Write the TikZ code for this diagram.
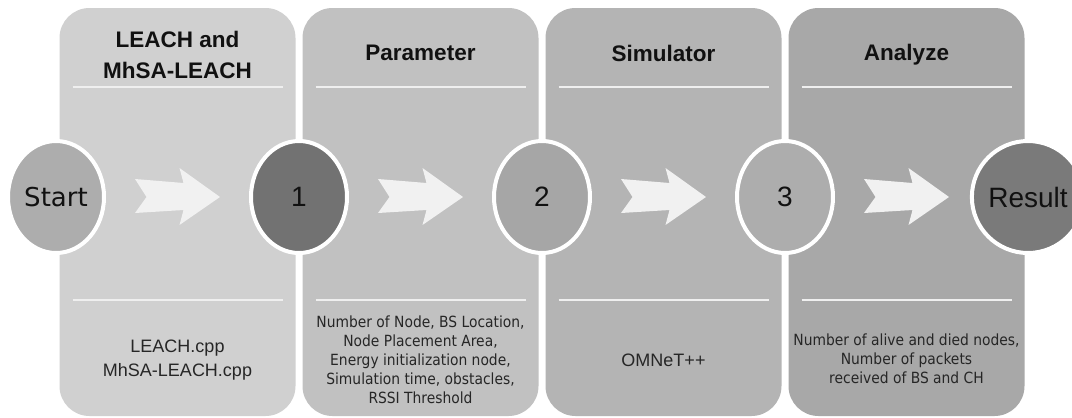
\documentclass[tikz,border=0pt]{standalone}
\usepackage{fontspec}
\setmainfont{Liberation Sans}
\newfontfamily\notefont{DejaVu Sans Condensed}
\newfontfamily\roundfont{DejaVu Sans}
\usetikzlibrary{shapes.geometric,calc}

\definecolor{panelA}{HTML}{D0D0D0}
\definecolor{panelB}{HTML}{C1C1C1}
\definecolor{panelC}{HTML}{B4B4B4}
\definecolor{panelD}{HTML}{A8A8A8}
\definecolor{ringMid}{HTML}{ADADAD}
\definecolor{ringDark}{HTML}{727272}
\definecolor{ringTwo}{HTML}{A6A6A6}
\definecolor{ringRes}{HTML}{7A7A7A}
\definecolor{rulecol}{HTML}{EFEFEF}
\definecolor{arrowfill}{HTML}{F1F1F1}
\definecolor{inkcol}{HTML}{111111}
\definecolor{bodyink}{HTML}{262626}

\tikzset{
  panel/.style={rounded corners=30pt},
  divider/.style={draw=rulecol, line width=2.2pt},
  stage/.style={ellipse, draw=white, line width=4pt, inner sep=0pt,
    minimum width=96pt, minimum height=112pt, text=inkcol},
  headtext/.style={align=center, text=inkcol,
    font=\bfseries\fontsize{22.5}{31}\selectfont},
  bodytext/.style={align=center, text=bodyink,
    font=\fontsize{18}{24}\selectfont},
  notetext/.style={align=center, text=bodyink,
    font=\notefont\fontsize{15.4}{19}\selectfont},
  flowarrow/.pic={
    \fill[arrowfill] (-42.5,-18) -- (6,-14) -- (2,-29) -- (42.5,0)
      -- (2,28) -- (6,13) -- (-42.5,16) -- (-31,0) -- cycle;
  }
}

\begin{document}
\begin{tikzpicture}[x=1pt, y=-1pt]
\useasboundingbox (0,0) rectangle (1072,418);
\fill[white] (0,0) rectangle (1072,418);

% four column panels
\fill[panelA, panel] (59.5,8) rectangle (295.5,416);
\fill[panelB, panel] (302.5,8) rectangle (538.5,416);
\fill[panelC, panel] (545.5,8) rectangle (781.5,416);
\fill[panelD, panel] (788.5,8) rectangle (1024.5,416);

% dividers under titles and above descriptions
\foreach \l in {59.5,302.5,545.5,788.5}{
  \draw[divider] (\l+13,87) -- (\l+223,87);
  \draw[divider] (\l+13,300) -- (\l+223,300);
}

% column titles
\node[headtext] (h1) at (177.5,54.5) {LEACH and\\MhSA-LEACH};
\node[headtext] (h2) at (420.5,53) {Parameter};
\node[headtext] (h3) at (663.5,53) {Simulator};
\node[headtext] (h4) at (906.5,55) {Analyze};

% column descriptions
\node[bodytext] (d1) at (177.5,360) {LEACH.cpp\\MhSA-LEACH.cpp};
\node[notetext] (d2) at (420.5,360) {Number of Node, BS Location,\\Node Placement Area,\\Energy initialization node,\\Simulation time, obstacles,\\RSSI Threshold};
\node[bodytext] (d3) at (663.5,360) {OMNeT++};
\node[notetext] (d4) at (906.5,359) {Number of alive and died nodes,\\Number of packets\\received of BS and CH};

% stage markers
\node[stage, fill=ringMid, font=\roundfont\fontsize{26}{26}\selectfont] (start) at (56,197) {Start};
\node[stage, fill=ringDark, font=\fontsize{28}{28}\selectfont] (one) at (299,197) {1};
\node[stage, fill=ringTwo, font=\fontsize{28}{28}\selectfont] (two) at (542,197) {2};
\node[stage, fill=ringMid, font=\fontsize{28}{28}\selectfont] (three) at (785,197) {3};
\node[stage, fill=ringRes, font=\fontsize{28}{28}\selectfont] (result) at (1028,197) {Result};

% flow arrows between markers
\pic at ($(start)!0.5!(one)$) {flowarrow};
\pic at ($(one)!0.5!(two)$) {flowarrow};
\pic at ($(two)!0.5!(three)$) {flowarrow};
\pic at ($(three)!0.5!(result)$) {flowarrow};
\end{tikzpicture}
\end{document}
